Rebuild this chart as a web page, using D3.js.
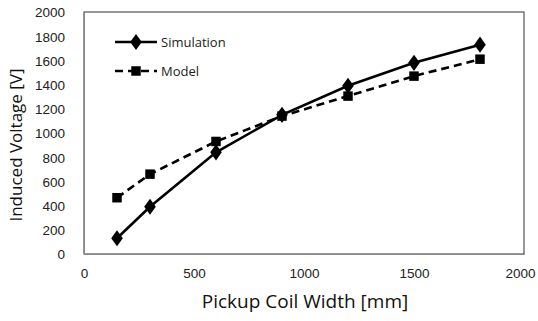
<!DOCTYPE html>
<meta charset="utf-8">
<style type="text/css">
body {
  margin: 0;
  background: #fff;
  font-family: "Open Sans", sans-serif;
}
.axis text {
  font-size: 13.5px;
  fill: #222;
}
.axis path,
.axis line {
  fill: none;
  stroke: #888;
}
.title {
  fill: #111;
}
.legend text {
  font-size: 13px;
  fill: #222;
}
</style>
<body>
</body>

<script src="https://cdn.jsdelivr.net/npm/d3@7"></script>
<script>
var widths = [150, 300, 600, 900, 1200, 1500, 1800];
var simulation = [130, 390, 840, 1150, 1390, 1580, 1730];
var model = [465, 660, 930, 1140, 1305, 1470, 1610];
var xTicks = [0, 500, 1000, 1500, 2000];
var yTicks = [0, 200, 400, 600, 800, 1000, 1200, 1400, 1600, 1800, 2000];

var margin = { top: 12, right: 14, bottom: 67, left: 84 };
var width = 538 - margin.left - margin.right;
var height = 321 - margin.top - margin.bottom;

var svg = d3.select("body")
  .append("svg")
    .attr("width", 538)
    .attr("height", 321)
  .append("g")
    .attr("transform", "translate(" + margin.left + "," + margin.top + ")");

var xscale = d3.scaleLinear().domain([0, 2000]).range([0, width]);
var yscale = d3.scaleLinear().domain([0, 2000]).range([height, 0]);

// frame
svg.append("rect")
  .attr("width", width)
  .attr("height", height)
  .attr("fill", "none")
  .attr("stroke", "#333")
  .attr("stroke-width", 1);

var xAxis = d3.axisBottom(xscale).tickValues(xTicks).tickFormat(d3.format("d"))
  .tickSize(0).tickPadding(14);
var yAxis = d3.axisLeft(yscale).tickValues(yTicks).tickFormat(d3.format("d"))
  .tickSize(0).tickPadding(19);

svg.append("g")
  .attr("class", "x axis")
  .attr("transform", "translate(0," + height + ")")
  .call(xAxis);

svg.append("g")
  .attr("class", "y axis")
  .call(yAxis);

svg.selectAll(".y.axis text").attr("dy", "0.36em");
svg.selectAll(".x.axis text").attr("dx", function(d) { return d == 2000 ? "-4" : "0"; });

var line = d3.line()
  .x(function(d, i) { return xscale(widths[i]); })
  .y(function(d) { return yscale(d); });

svg.append("path")
  .datum(model)
  .attr("d", line)
  .attr("fill", "none")
  .attr("stroke", "#000")
  .attr("stroke-width", 2.6)
  .attr("stroke-dasharray", "8,5");

svg.append("path")
  .datum(simulation)
  .attr("d", line)
  .attr("fill", "none")
  .attr("stroke", "#000")
  .attr("stroke-width", 2.6);

var diamond = d3.symbol().type(d3.symbolDiamond).size(75);
var square = d3.symbol().type(d3.symbolSquare).size(90);

svg.selectAll("path.sq")
  .data(model)
  .enter().append("path")
  .attr("class", "sq")
  .attr("d", square)
  .attr("fill", "#000")
  .attr("transform", function(d, i) {
    return "translate(" + xscale(widths[i]) + "," + yscale(d) + ")";
  });

svg.selectAll("path.dm")
  .data(simulation)
  .enter().append("path")
  .attr("class", "dm")
  .attr("d", diamond)
  .attr("fill", "#000")
  .attr("transform", function(d, i) {
    return "translate(" + xscale(widths[i]) + "," + yscale(d) + ") scale(1.25,1)";
  });

// legend
var legend = svg.append("g")
  .attr("class", "legend")
  .attr("transform", "translate(31,30)");

legend.append("line")
  .attr("x1", 0).attr("x2", 42).attr("y1", 0).attr("y2", 0)
  .attr("stroke", "#000").attr("stroke-width", 2.6);
legend.append("path")
  .attr("d", diamond)
  .attr("transform", "translate(21,0) scale(1.25,1)");
legend.append("text")
  .attr("x", 46).attr("y", 0).attr("dy", "0.35em")
  .text("Simulation");

legend.append("line")
  .attr("x1", 0).attr("x2", 42).attr("y1", 29).attr("y2", 29)
  .attr("stroke", "#000").attr("stroke-width", 2.6)
  .attr("stroke-dasharray", "8,5");
legend.append("path")
  .attr("d", square)
  .attr("transform", "translate(21,29)");
legend.append("text")
  .attr("x", 46).attr("y", 29).attr("dy", "0.35em")
  .text("Model");

// axis titles
svg.append("text")
  .attr("class", "title")
  .attr("text-anchor", "middle")
  .style("font-size", "17px")
  .attr("transform", "translate(-62," + (height / 2 + 12) + ") rotate(-90)")
  .text("Induced Voltage [V]");

svg.append("text")
  .attr("class", "title")
  .attr("text-anchor", "middle")
  .style("font-size", "19px")
  .attr("x", width / 2 + 1)
  .attr("y", height + 54)
  .text("Pickup Coil Width [mm]");
</script>
